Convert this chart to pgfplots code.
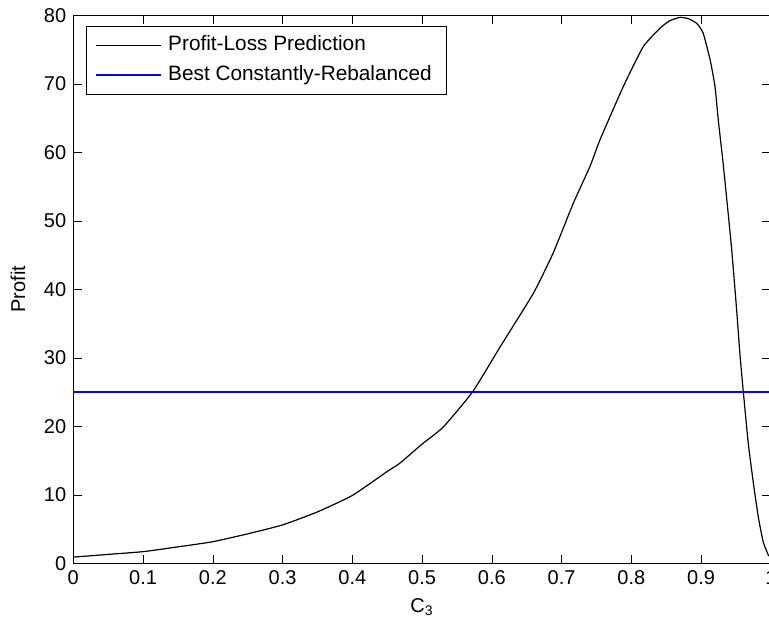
\documentclass[border=0pt]{standalone}
\usepackage{fontspec}
\setmainfont{Liberation Sans}
\usepackage{pgfplots}
\pgfplotsset{compat=1.18}
\pgfplotstableread{
x y
0 0.9
0.05 1.3
0.1 1.7
0.15 2.4
0.2 3.15
0.25 4.3
0.3 5.6
0.35 7.5
0.4 9.9
0.45 13.4
0.468 14.6
0.5 17.4
0.5305 19.9
0.5726 25.05
0.612 31.6
0.6595 39.4
0.688 45.3
0.717 52.6
0.741 58.0
0.755 61.8
0.7885 69.6
0.817 75.4
0.841 78.1
0.855 79.2
0.870 79.7
0.882 79.5
0.894 78.8
0.903 77.4
0.913 73.5
0.920 69.6
0.9247 64.7
0.931 59.0
0.937 53.0
0.944 45.7
0.951 37.0
0.956 30.2
0.9606 25.0
0.9677 17.5
0.975 11.7
0.982 6.8
0.989 3.15
0.9964 1.2
1 0.9
}\profittable
\pgfplotstableread{
x y
0 25.05
1 25.05
}\besttable
\begin{document}
\begin{tikzpicture}
\begin{axis}[
  scale only axis,
  width=348.75pt, height=274pt,
  xmin=0, xmax=1, ymin=0, ymax=80,
  xtick={0,0.1,0.2,0.3,0.4,0.5,0.6,0.7,0.8,0.9,1},
  xticklabels={0,0.1,0.2,0.3,0.4,0.5,0.6,0.7,0.8,0.9,1},
  ytick={0,10,20,30,40,50,60,70,80},
  tick align=inside,
  tick style={black},
  tick label style={font=\fontsize{10}{12}\selectfont},
  /pgf/number format/assume math mode=true,
  every axis x label/.style={at={(axis description cs:0.5,0)}, yshift=-21.9pt, anchor=center, font=\fontsize{10}{12}\selectfont},
  every axis y label/.style={at={(axis description cs:0,0.5)}, xshift=-27.6pt, rotate=90, anchor=center, font=\fontsize{10}{12}\selectfont},
  xlabel={C\textsubscript{3}},
  ylabel={Profit},
  legend cell align=left,
  legend image code/.code={\draw[#1] (0pt,0pt) -- (32.5pt,0pt);},
  legend style={at={(0,1)}, anchor=north west, xshift=6.35pt, yshift=-5.35pt,
    draw=black, font=\fontsize{10.4}{12}\selectfont,
    inner xsep=4.5pt, inner ysep=3pt, row sep=2pt,
    nodes={text height=7.5pt, text depth=2pt, inner ysep=1.75pt, inner xsep=3pt}},
]
\addplot[color=black, line width=0.6pt, smooth, tension=0.3] table[x=x,y=y]{\profittable};
\addlegendentry{Profit-Loss Prediction}
\addplot[color=blue, line width=0.9pt] table[x=x,y=y]{\besttable};
\addlegendentry{Best Constantly-Rebalanced}
\end{axis}
\pgfresetboundingbox
\path[use as bounding box] ([xshift=-36.65pt,yshift=-30.35pt]current axis.south west) rectangle ([xshift=-0.9pt,yshift=7.65pt]current axis.north east);
\end{tikzpicture}
\end{document}
